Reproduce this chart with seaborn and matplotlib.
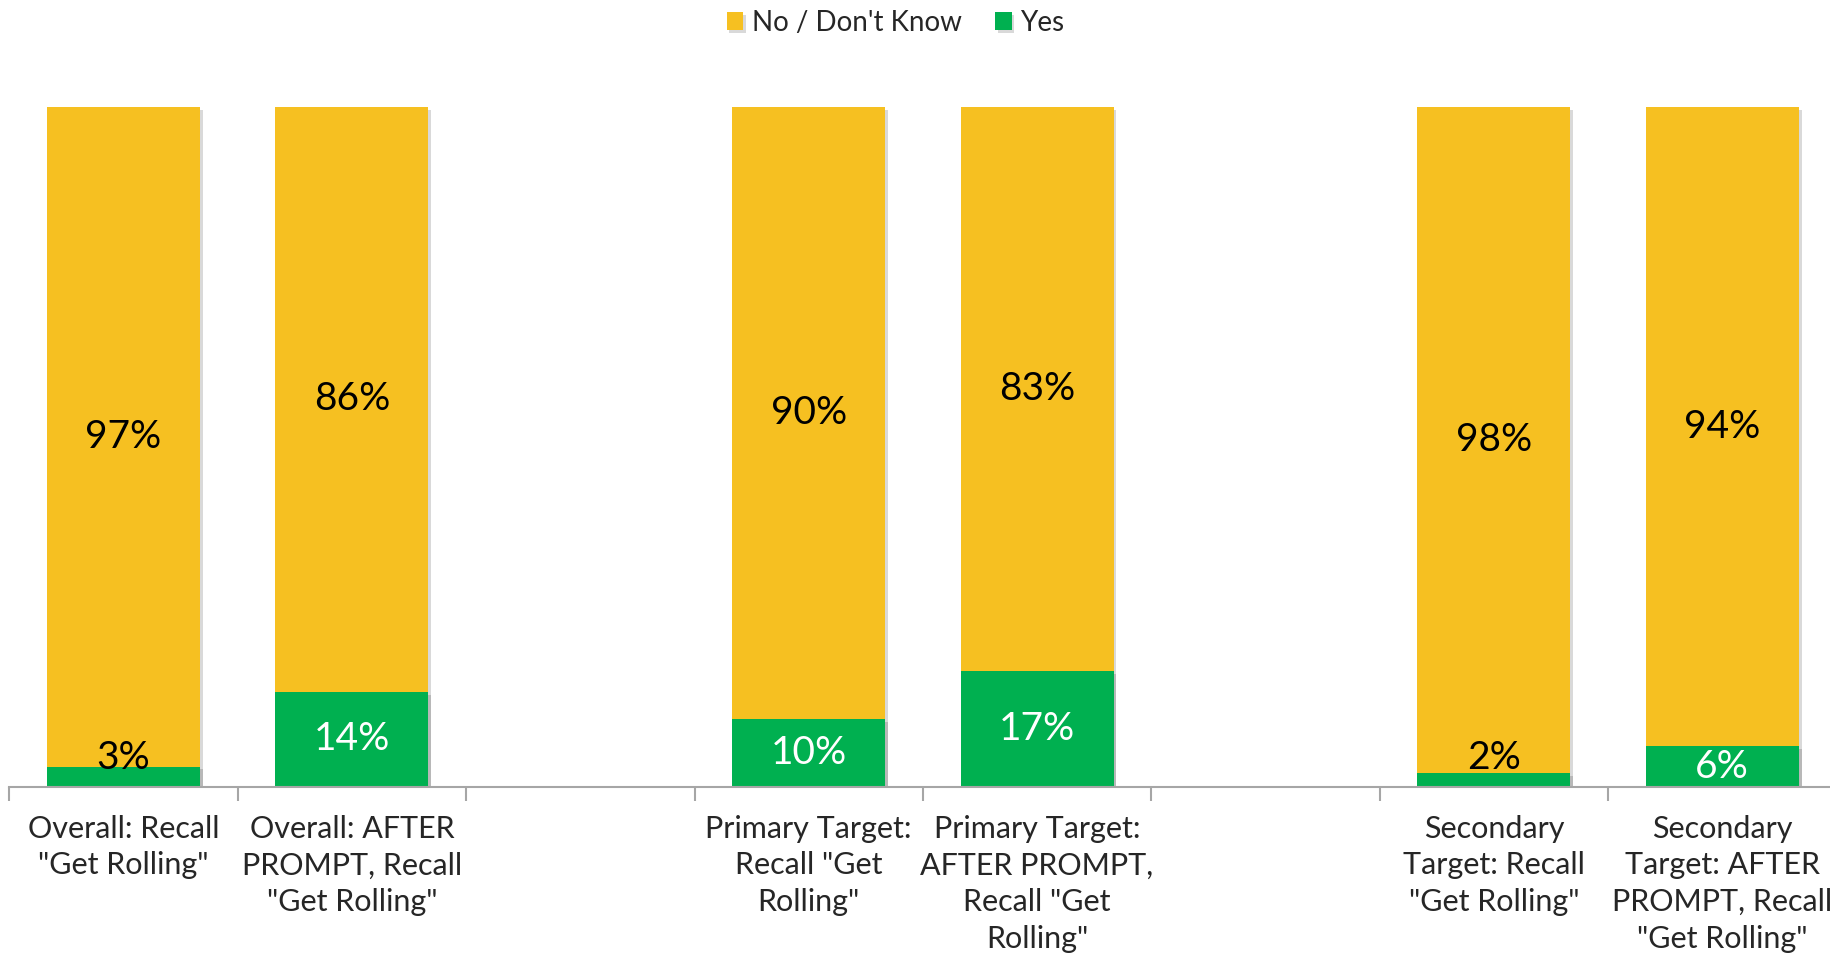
import matplotlib
matplotlib.use("Agg")
import matplotlib.pyplot as plt
import matplotlib.patheffects as pe
import seaborn as sns
import pandas as pd
import numpy as np

categories = [
    'Overall: Recall\n"Get Rolling"',
    'Overall: AFTER\nPROMPT, Recall\n"Get Rolling"',
    ' ',
    'Primary Target:\nRecall "Get\nRolling"',
    'Primary Target:\nAFTER PROMPT,\nRecall "Get\nRolling"',
    '  ',
    'Secondary\nTarget: Recall\n"Get Rolling"',
    'Secondary\nTarget: AFTER\nPROMPT, Recall\n"Get Rolling"',
]
no_dont_know = [97, 86, np.nan, 90, 83, np.nan, 98, 94]
yes = [3, 14, np.nan, 10, 17, np.nan, 2, 6]

YELLOW = "#F6C021"
GREEN = "#00B050"

sns.set_theme(style="white")
plt.rcParams['font.family'] = ['Lato', 'DejaVu Sans']

df = pd.DataFrame({"cat": categories, "no": no_dont_know, "yes": yes})
df["total"] = df["no"] + df["yes"]
plot_df = df.dropna()

fig = plt.figure(figsize=(18.31, 9.55), dpi=100)
ax = fig.add_axes([9.3 / 1831, 0.176, 8 * 228.4 / 1831, 0.712])

shadow = [pe.SimplePatchShadow(offset=(2, -2), shadow_rgbFace="black", alpha=0.15), pe.Normal()]

sns.barplot(data=plot_df, x="cat", y="total", order=categories, color=YELLOW,
            width=0.67, saturation=1, ax=ax, label="No / Don't Know")
sns.barplot(data=plot_df, x="cat", y="yes", order=categories, color=GREEN,
            width=0.67, saturation=1, ax=ax, label="Yes")
for p in ax.patches:
    p.set_path_effects(shadow)
    p.set_edgecolor("none")

handles, labels = ax.get_legend_handles_labels()
if ax.get_legend() is not None:
    ax.get_legend().remove()

# data labels
for i, (n, y) in enumerate(zip(no_dont_know, yes)):
    if np.isnan(n):
        continue
    ax.text(i, y + n / 2, f"{n:.0f}%", ha="center", va="center", fontsize=28, color="black")
    ypos = y / 2 if y >= 5 else 4.3
    col = "white" if y >= 5 else "black"
    ax.text(i, ypos, f"{y:.0f}%", ha="center", va="center", fontsize=28, color=col)

ax.set_xlim(-0.5, 7.5)
ax.set_ylim(0, 100)
ax.set_xlabel("")
ax.set_ylabel("")
ax.set_yticks([])
for s in ["top", "right", "left"]:
    ax.spines[s].set_visible(False)
ax.spines["bottom"].set_color("#A6A6A6")
ax.spines["bottom"].set_linewidth(1.5)

ax.set_xticks(range(len(categories)))
ax.set_xticklabels(categories, fontsize=22, linespacing=1.38, va="top")
ax.tick_params(axis="x", which="major", length=0, pad=20)
ax.set_xticks(np.arange(-0.5, 8.0, 1.0), minor=True)
ax.tick_params(axis="x", which="minor", bottom=True, length=10, width=1.5,
               color="#A6A6A6", direction="out")

fig.legend(handles, labels, loc="center", bbox_to_anchor=(0.489, 0.976), ncol=2,
           frameon=False, fontsize=20, handlelength=0.6, handleheight=0.6,
           handletextpad=0.3, columnspacing=1.2)

fig.savefig("out.png", dpi=100)
